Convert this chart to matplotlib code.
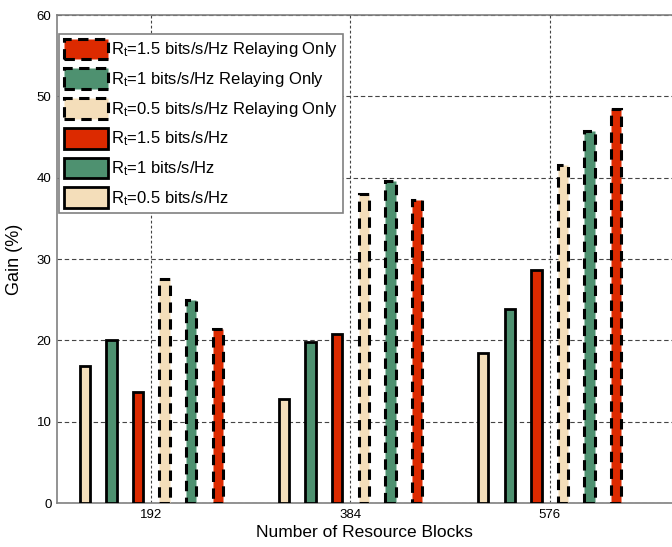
import numpy as np
import matplotlib.pyplot as plt

plt.rcParams['font.family'] = ['Liberation Sans', 'DejaVu Sans']
plt.rcParams['mathtext.fontset'] = 'custom'
plt.rcParams['mathtext.rm'] = 'Liberation Sans'
plt.rcParams['mathtext.it'] = 'Liberation Sans'

# Resource block counts on the x axis
blocks = [192, 384, 576]
rates = ['0.5', '1', '1.5']
colors = ['#F4DEBA', '#4E9170', '#DC2A00']

# Gain (%) per rate, full scheme and relaying only
gain_full = {
    '0.5': [16.8, 12.8, 18.4],
    '1': [20.0, 19.8, 23.9],
    '1.5': [13.6, 20.8, 28.6],
}
gain_relay = {
    '0.5': [27.5, 38.0, 41.5],
    '1': [25.0, 39.6, 45.7],
    '1.5': [21.4, 37.2, 48.4],
}

offsets = [-64, -38.4, -12.8, 12.8, 38.4, 64]
width = 10

fig = plt.figure(figsize=(6.72, 5.47), dpi=100)
ax = fig.add_axes([57 / 672, 44 / 547, 1 - 57 / 672, 488 / 547])

x = np.array(blocks, dtype=float)
handles = {}
for i, r in enumerate(rates):
    b = ax.bar(x + offsets[i], gain_full[r], width, color=colors[i],
               edgecolor='black', linewidth=2.0, zorder=3,
               label=r'R$_{\mathrm{t}}$=' + r + ' bits/s/Hz')
    handles['full' + r] = b
for i, r in enumerate(rates):
    b = ax.bar(x + offsets[i + 3], gain_relay[r], width, color=colors[i],
               edgecolor='black', linewidth=2.2, linestyle=(0, (3.4, 2.1)),
               zorder=3, joinstyle='miter',
               label=r'R$_{\mathrm{t}}$=' + r + ' bits/s/Hz Relaying Only')
    handles['relay' + r] = b

order = ['relay1.5', 'relay1', 'relay0.5', 'full1.5', 'full1', 'full0.5']
leg = ax.legend([handles[k] for k in order],
                [handles[k].get_label() for k in order],
                loc='upper left', bbox_to_anchor=(0.004, 0.962),
                fontsize=12, handlelength=2.6, handleheight=1.55,
                handletextpad=0.2, labelspacing=0.53, borderpad=0.3,
                borderaxespad=0, fancybox=False, framealpha=1)
leg.get_frame().set_edgecolor('#808080')
leg.get_frame().set_linewidth(1.2)
leg.set_zorder(5)

ax.set_xlim(101, 694)
ax.set_ylim(0, 60)
ax.set_xticks(blocks)
ax.set_yticks(range(0, 61, 10))
ax.tick_params(length=0, labelsize=9.5, pad=4)
ax.grid(axis='y', linestyle=(0, (4, 2.5)), color='#444444', linewidth=0.8, zorder=0)
ax.grid(axis='x', linestyle=(0, (2.5, 2)), color='#444444', linewidth=0.8, zorder=0)

for s in ['left', 'top', 'bottom']:
    ax.spines[s].set_color('#808080')
    ax.spines[s].set_linewidth(1.2)
ax.spines['right'].set_visible(False)

ax.set_xlabel('Number of Resource Blocks', fontsize=12.5, labelpad=3)
ax.set_ylabel('Gain (%)', fontsize=13, labelpad=10)

fig.savefig('out.png', dpi=100)
